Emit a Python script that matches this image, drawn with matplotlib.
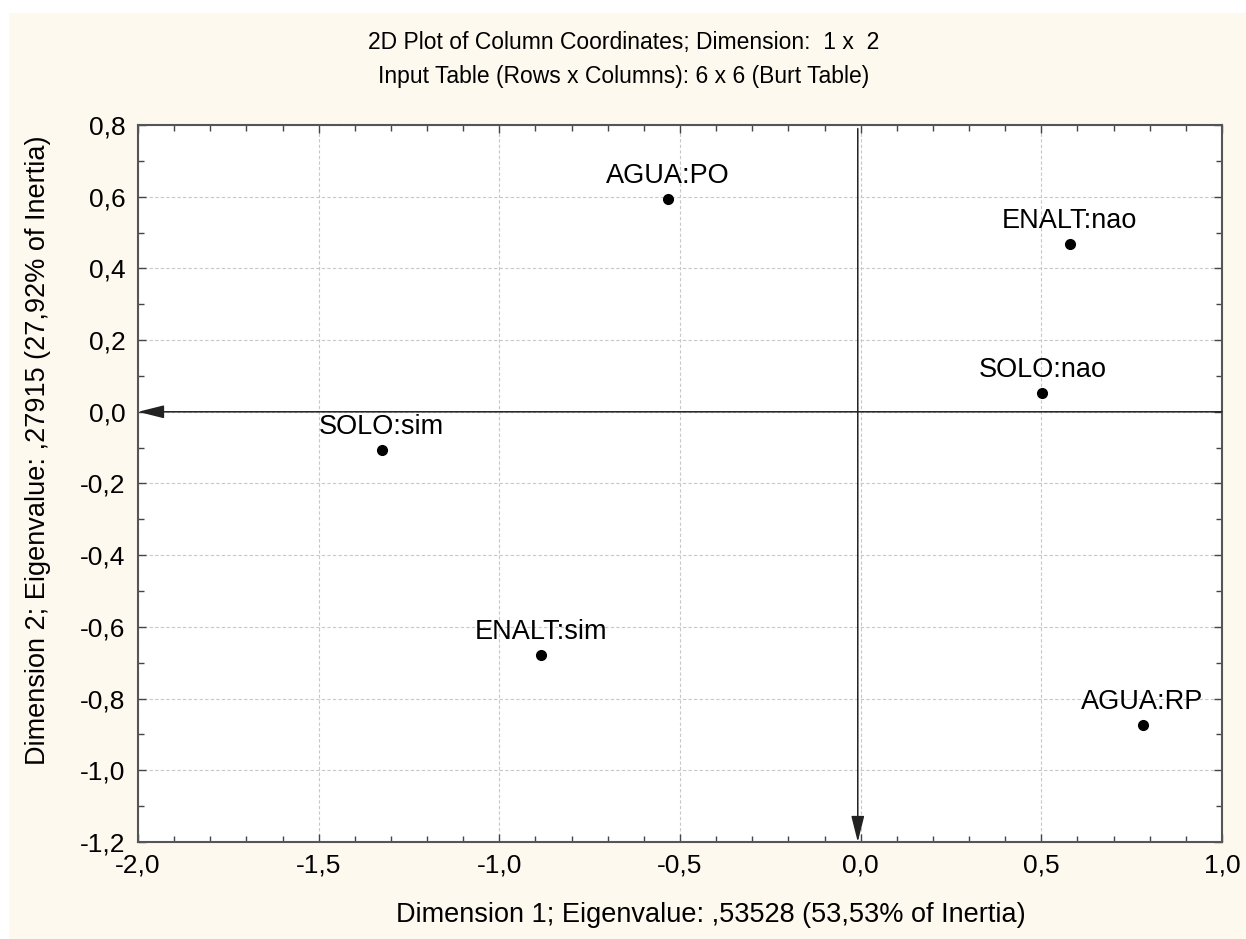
import numpy as np
import matplotlib
matplotlib.use("Agg")
import matplotlib.pyplot as plt
from matplotlib.ticker import MultipleLocator, FuncFormatter
from matplotlib.patches import Rectangle

plt.rcParams['font.family'] = ['Liberation Sans', 'DejaVu Sans']

# column coordinates (dimension 1, dimension 2)
labels = ["AGUA:PO", "ENALT:nao", "SOLO:nao", "SOLO:sim", "ENALT:sim", "AGUA:RP"]
dim1 = [-0.534, 0.578, 0.503, -1.326, -0.886, 0.780]
dim2 = [0.594, 0.468, 0.053, -0.107, -0.679, -0.873]

title1 = "2D Plot of Column Coordinates; Dimension:  1 x  2"
title2 = "Input Table (Rows x Columns): 6 x 6 (Burt Table)"
xlab = "Dimension 1; Eigenvalue: ,53528 (53,53% of Inertia)"
ylab = "Dimension 2; Eigenvalue: ,27915 (27,92% of Inertia)"

W, H = 1246, 939
fig = plt.figure(figsize=(W / 100, H / 100), dpi=100)
fig.patch.set_facecolor("white")
fig.patches.append(Rectangle((9 / W, 0), 1 - 9 / W, 1 - 13 / H, transform=fig.transFigure,
                             facecolor="#fef9ee", edgecolor="none", zorder=-10))

ax = fig.add_axes([138 / W, 1 - 842 / H, (1222 - 138) / W, (842 - 125) / H])
ax.set_facecolor("white")
ax.set_xlim(-2.0, 1.0)
ax.set_ylim(-1.2, 0.8)

ax.xaxis.set_major_locator(MultipleLocator(0.5))
ax.xaxis.set_minor_locator(MultipleLocator(0.1))
ax.yaxis.set_major_locator(MultipleLocator(0.2))
ax.yaxis.set_minor_locator(MultipleLocator(0.1))
comma = FuncFormatter(lambda v, p: f"{v:.1f}".replace(".", ",").replace("-0,0", "0,0"))
ax.xaxis.set_major_formatter(comma)
ax.yaxis.set_major_formatter(comma)

ax.tick_params(which="both", direction="in", top=True, right=True, color="#444444",
               width=1.0, labelsize=19)
ax.tick_params(which="major", length=6)
ax.tick_params(which="minor", length=4)
ax.tick_params(axis="y", pad=9)
ax.tick_params(axis="x", pad=8)

for s in ax.spines.values():
    s.set_color("#555555")
    s.set_linewidth(1.5)

ax.grid(True, which="major", color="#c8c8c8", linestyle=(0, (3, 2)), linewidth=0.8)
ax.set_axisbelow(True)

# axis arrows
arrow = dict(arrowstyle="-|>,head_length=1.6,head_width=0.4", color="#222222",
             lw=1.1, shrinkA=0, shrinkB=0)
ax.annotate("", xy=(-2.0, 0.0), xytext=(1.0, 0.0), arrowprops=arrow, zorder=3)
ax.annotate("", xy=(-0.008, -1.2), xytext=(-0.008, 0.79), arrowprops=arrow, zorder=3)

ax.plot(dim1, dim2, "o", color="black", markersize=7, zorder=4)
for x, y, t in zip(dim1, dim2, labels):
    ax.annotate(t, (x, y), xytext=(0, 7), textcoords="offset points",
                ha="center", va="bottom", fontsize=19.5, zorder=5)

fig.text(624 / W, 1 - 43 / H, title1, ha="center", va="center", fontsize=16.5)
fig.text(624 / W, 1 - 77 / H, title2, ha="center", va="center", fontsize=16.5)
fig.text(711 / W, 1 - 915 / H, xlab, ha="center", va="center", fontsize=19.5)
fig.text(38 / W, 1 - 450 / H, ylab, ha="center", va="center", rotation=90, fontsize=19.5)

fig.savefig("out.png", dpi=100)
